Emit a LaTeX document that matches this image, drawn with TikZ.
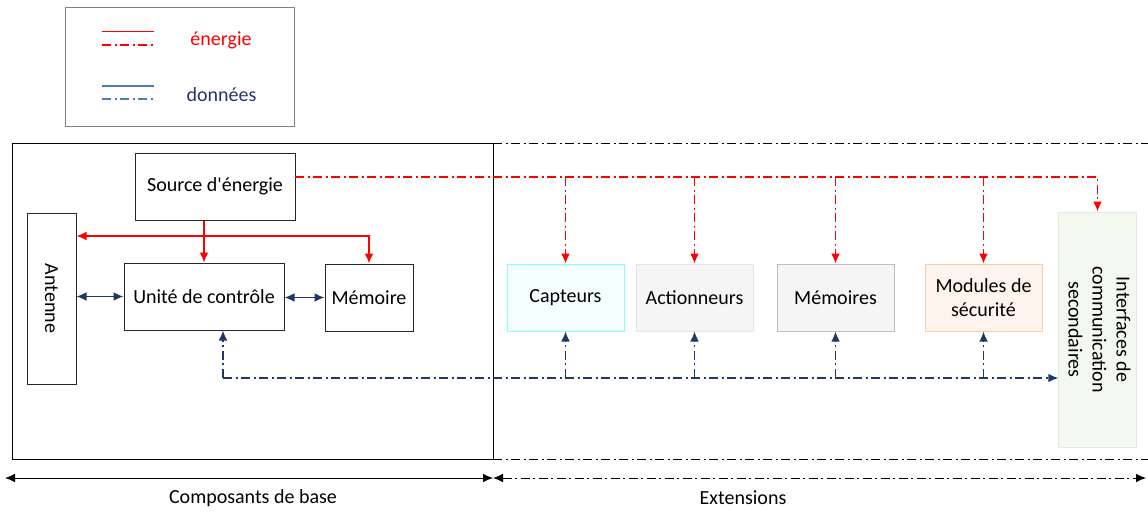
\documentclass[tikz,border=0pt]{standalone}
\usepackage{fontspec}
\setmainfont{Carlito}
\usetikzlibrary{positioning,arrows,arrows.meta}
\definecolor{navy}{HTML}{1F3864}
\definecolor{legblue}{HTML}{4A7EBB}
\definecolor{pwrred}{HTML}{FF0000}
\definecolor{capline}{HTML}{80FFFF}
\definecolor{capfill}{HTML}{F5FFFF}
\definecolor{secline}{HTML}{F8CBAD}
\definecolor{secfill}{HTML}{FDF4EE}
\definecolor{ifcline}{HTML}{E2EFDA}
\definecolor{ifcfill}{HTML}{F4F9F0}

\begin{document}
\begin{tikzpicture}[x=0.75pt,y=-0.75pt,font=\fontsize{15}{18}\selectfont,
	tip/.style={-{Latex[length=7.5pt,width=6.5pt]}},
	tips/.style={{Latex[length=7.5pt,width=6.5pt]}-{Latex[length=7.5pt,width=6.5pt]}},
	box/.style={draw=black!85,line width=0.75pt,minimum width=120pt,minimum height=50.25pt,align=center,inner sep=2pt},
	ext/.style={box,minimum width=87.75pt},
	dashdot/.style={dash pattern=on 7pt off 2.5pt on 1.5pt off 2.5pt},
	pwr/.style={draw=pwrred,line width=1.1pt,tip},
	data/.style={draw=navy,line width=1.1pt,tips},
	datax/.style={draw=navy,line width=1.1pt,dashdot,tip}]
	\useasboundingbox (0,0) rectangle (1148,511);

	% legende
	\draw[draw=black!50,line width=0.75pt] (65,7) rectangle (294,126);
	\draw[draw=pwrred,line width=1.1pt] (102,31.5) -- (154,31.5);
	\draw[draw=pwrred,line width=1.1pt,dashdot] (102,45) -- (154,45);
	\draw[draw=legblue,line width=1.1pt] (102,86) -- (154,86);
	\draw[draw=legblue,line width=1.1pt,dashdot] (102,99) -- (154,99);
	\node[text=pwrred] (lenergie) at (221,40) {énergie};
	\node[text=navy] (ldonnees) at (221.5,95) {données};

	% cadres
	\draw[line width=0.75pt] (12,143) rectangle (493,459);
	\draw[line width=0.75pt,dashdot] (493,143) -- (1148,143);
	\draw[line width=0.75pt,dashdot] (493,459) -- (1148,459);

	% composants de base
	\node[box] (src) at (215,186.5) {Source d\textquotesingle énergie};
	\node[box,minimum width=36.75pt,minimum height=128.25pt] (ant) at (51.5,298.5) {\rotatebox{-90}{Antenne}};
	\node[box] (uc) at (204,296.5) {Unité de contrôle};
	\node[box,minimum width=66pt] (mem) at (369,297.5) {Mémoire};

	% extensions
	\node[ext,draw=capline,fill=capfill] (cap) at (565.5,297.5) {Capteurs};
	\node[ext,draw=black!10,fill=black!4] (act) at (694.5,297.5) {Actionneurs};
	\node[ext,draw=black!25,fill=black!4] (mems) at (835.5,297.5) {Mémoires};
	\node[ext,draw=secline,fill=secfill] (sec) at (983.5,297.5) {Modules de\\sécurité};
	\node[ext,draw=ifcline,fill=ifcfill,minimum width=47.25pt,minimum height=176.25pt] (ifc) at (1097.5,329.5)
		{\rotatebox{-90}{\begin{tabular}{@{}c@{}}Interfaces de\\communication\\secondaires\end{tabular}}};

	% energie
	\coordinate (pj) at (205,236);
	\draw[pwr] (uc.north |- src.south) -- (uc.north);
	\draw[pwr] (pj) -- (pj -| ant.east);
	\draw[pwr] (pj) -| (mem.north);
	\coordinate (ps) at (295,177);
	\draw[pwr,dashdot] (ps) -| (ifc.north);
	\foreach \n in {cap,act,mems,sec}
		\draw[pwr,dashdot] (\n.north |- ps) -- (\n.north);

	% donnees
	\draw[data] (ant.east |- uc.west) -- (uc.west);
	\draw[data] (uc.east |- mem.west) -- (mem.west);
	\coordinate (db) at (223,378);
	\draw[datax] (db) -- (db |- uc.south);
	\draw[datax] (db) -- (db -| ifc.west);
	\foreach \n in {cap,act,mems,sec}
		\draw[datax] (\n.south |- db) -- (\n.south);

	% echelle
	\coordinate (bl) at (5,478);
	\coordinate (bm) at (493,478);
	\coordinate (br) at (1146,478);
	\draw[line width=0.75pt,tips] (bl) -- (bm);
	\draw[line width=0.75pt,dashdot,tips] (bm) -- (br);
	\node (lbase) at (253,498) {Composants de base};
	\node (lext) at (743,498) {Extensions};
\end{tikzpicture}
\end{document}
